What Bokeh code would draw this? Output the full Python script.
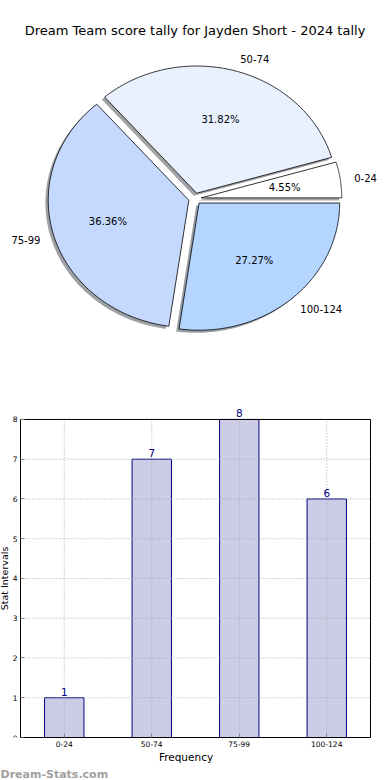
import numpy as np
from bokeh.plotting import figure
from bokeh.models import ColumnDataSource, Range1d, FixedTicker, Title
from bokeh.core.properties import value
from bokeh.embed import file_html
from bokeh.resources import INLINE

# ---------------- data ----------------
chart_title = "Dream Team score tally for Jayden Short - 2024 tally"
categories = ["0-24", "50-74", "75-99", "100-124"]
counts = [1, 7, 8, 6]
slice_colors = ["#ffffff", "#e9f1ff", "#c5d9ff", "#b3d5ff"]
explode = [0.045, 0.045, 0.045, 0.045]
y_ticks = [0, 1, 2, 3, 4, 5, 6, 7, 8]
x_label = "Frequency"
y_label = "Stat Intervals"
watermark = "Dream-Stats.com"

FONT = "DejaVu Sans"
W = 390
H1 = 394
H2 = 780 - H1

# ---------------- pie ----------------
PX_X, PX_Y = 140.6, 127.2          # pixels per unit radius (x, y)
CX, CY = 194.4, 198.2              # pie centre in canvas pixels

pie = figure(width=W, height=H1, output_backend="svg", toolbar_location=None,
             x_axis_type=None, y_axis_type=None, min_border=0,
             x_range=Range1d(-CX / PX_X, (W - CX) / PX_X),
             y_range=Range1d((CY - H1) / PX_Y, CY / PX_Y))
pie.grid.visible = False
pie.outline_line_color = None

total = float(sum(counts))
fracs = np.array(counts) / total
bounds = np.concatenate([[0.0], np.cumsum(fracs)]) * 2 * np.pi

xs, ys, sxs, sys_, shadow_cols = [], [], [], [], []
lab_x, lab_y, lab_align, pct_x, pct_y, pct_text = [], [], [], [], [], []
for i, cat in enumerate(categories):
    a0, a1 = bounds[i], bounds[i + 1]
    am = 0.5 * (a0 + a1)
    ox = explode[i] * np.cos(am)
    oy = explode[i] * np.sin(am)
    t = np.linspace(a0, a1, 120)
    px = np.concatenate([[ox], ox + np.cos(t)])
    py = np.concatenate([[oy], oy + np.sin(t)])
    xs.append(list(px)); ys.append(list(py))
    sxs.append(list(px - 0.02)); sys_.append(list(py - 0.02))
    c = slice_colors[i].lstrip("#")
    rgb = [int(c[k:k + 2], 16) for k in (0, 2, 4)]
    shadow_cols.append("#%02x%02x%02x" % tuple(int(0.3 * v) for v in rgb))
    xt = ox + 1.1 * np.cos(am)
    yt = oy + 1.1 * np.sin(am)
    lab_x.append(xt); lab_y.append(yt)
    lab_align.append("left" if xt > 0 else "right")
    pct_x.append(ox + 0.6 * np.cos(am)); pct_y.append(oy + 0.6 * np.sin(am))
    pct_text.append("%.2f%%" % (100 * fracs[i]))

pie.patches(xs=sxs, ys=sys_, fill_color=shadow_cols, fill_alpha=0.5, line_color=None)
pie.patches(xs=xs, ys=ys, fill_color=slice_colors, line_color="black", line_width=0.8)

pie.text(x=lab_x, y=lab_y, text=categories, text_align=lab_align, text_baseline="middle",
         text_font=value(FONT), text_font_size="10px", text_color="black")
pie.text(x=pct_x, y=pct_y, text=pct_text, text_align="center", text_baseline="middle",
         text_font=value(FONT), text_font_size="10px", text_color="black")
pie.text(x=[(194.5 - CX) / PX_X], y=[(CY - 30) / PX_Y], text=[chart_title],
         text_align="center", text_baseline="middle",
         text_font=value(FONT), text_font_size="13px", text_color="black")

# ---------------- bar ----------------
BOX_PX = 319.0                 # pixel height of the 0..8 box
PX_CAT = 87.5                  # pixels per category
BOX_LEFT = 20                  # pixel x of the box's left edge
TOP_B, BOT_B = 10, 42
frame_h = H2 - TOP_B - BOT_B
y_max = float(y_ticks[-1])
y_end = y_max * frame_h / BOX_PX
ncat = len(categories)
x_pos = list(range(ncat))
x_lo, x_hi = -0.5, ncat - 0.5
x_start = x_lo - BOX_LEFT / PX_CAT
x_end = x_hi + 1.0 / PX_CAT
right_b = W - int(round((x_end - x_start) * PX_CAT))

bar = figure(width=W, height=H2, output_backend="svg", toolbar_location=None,
             x_range=Range1d(x_start, x_end), y_range=Range1d(0, y_end),
             min_border_top=TOP_B, min_border_right=right_b,
             min_border_left=0, min_border_bottom=BOT_B)
bar.outline_line_color = None
bar.grid.visible = False
src = ColumnDataSource(dict(x=x_pos, count=counts, label=[str(v) for v in counts]))

bar.vbar(x="x", top="count", width=0.45, source=src,
         fill_color="#ccccE6", line_color="#000080", line_width=1)

# dotted grid drawn above the bars, like the original
GRID = dict(line_color="#a8a8a8", line_dash="1 2", line_width=1)
gy = y_ticks[1:-1]
bar.segment(x0=[x_lo] * len(gy), y0=gy, x1=[x_hi] * len(gy), y1=gy, **GRID)
bar.segment(x0=x_pos, y0=[0] * ncat, x1=x_pos, y1=[y_max] * ncat, **GRID)

# box around the 0..8 area
bar.quad(left=[x_lo], right=[x_hi], bottom=[0], top=[y_max],
         fill_color=None, line_color="black", line_width=1)

bar.text(x="x", y="count", text="label", source=src, y_offset=-2,
         text_align="center", text_baseline="bottom",
         text_font=value(FONT), text_font_size="10.5px", text_color="#000080")

for ax in (bar.xaxis[0], bar.yaxis[0]):
    ax.axis_line_color = "black"
    ax.major_tick_in = 4
    ax.major_tick_out = 0
    ax.major_tick_line_color = "#888888"
    ax.minor_tick_line_color = None
    ax.major_label_text_font = FONT
    ax.major_label_text_font_size = "7.5px"
    ax.major_label_text_color = "black"
    ax.axis_label_text_font = FONT
    ax.axis_label_text_font_style = "normal"
    ax.axis_label_text_color = "black"
    ax.axis_label_standoff = 1
    ax.major_label_standoff = 3

bar.xaxis.axis_label = x_label
bar.xaxis.axis_label_text_font_size = "10.5px"
bar.xaxis.ticker = FixedTicker(ticks=x_pos)
bar.xaxis.major_label_overrides = {i: c for i, c in enumerate(categories)}
bar.xaxis.bounds = (x_lo, x_hi)

bar.yaxis.axis_label = y_label
bar.yaxis.axis_label_text_font_size = "9.5px"
bar.yaxis.axis_label_standoff = 0
bar.yaxis.ticker = FixedTicker(ticks=y_ticks)
bar.yaxis.bounds = (0, y_max)
bar.yaxis.fixed_location = x_lo

bar.add_layout(Title(text=watermark, align="left", offset=0, text_color="#a0a0a0",
                     text_font=FONT, text_font_style="bold", text_font_size="11px",
                     standoff=0), "below")

open("out.html", "w").write(file_html([pie, bar], INLINE))
